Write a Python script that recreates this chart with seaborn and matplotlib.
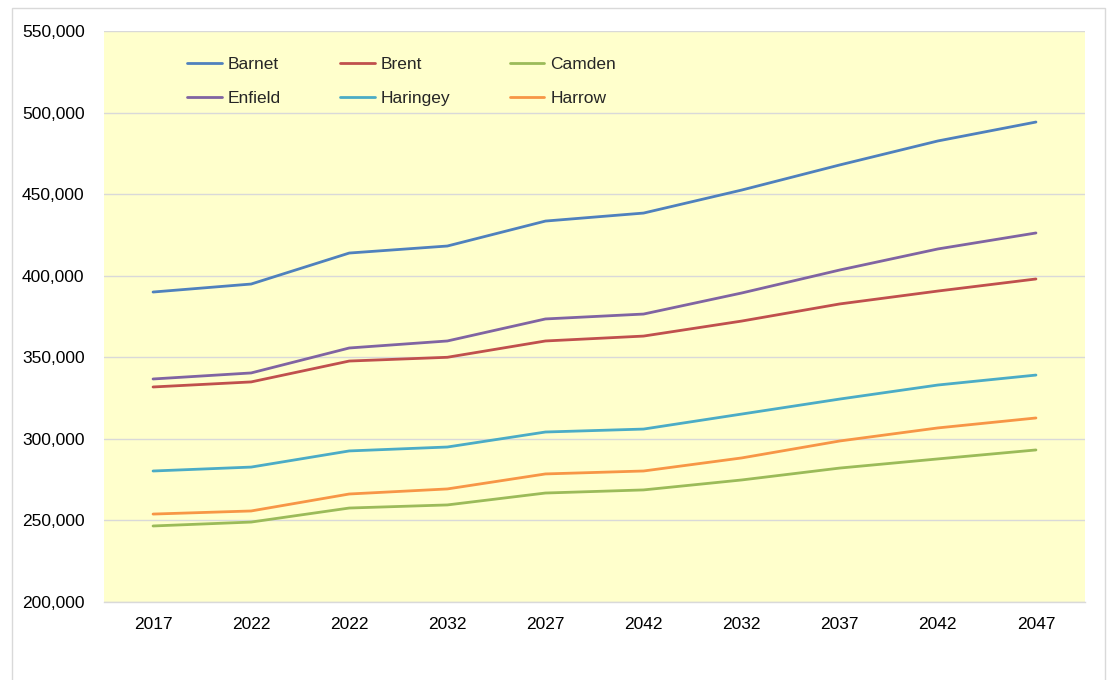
import numpy as np
import pandas as pd
import matplotlib.pyplot as plt
import matplotlib.patches as patches
import seaborn as sns

# ==========================
# Data
# ==========================
years = ["2017", "2022", "2022", "2032", "2027", "2042", "2032", "2037", "2042", "2047"]

barnet = [390000, 394900, 413900, 418200, 433500, 438400, 452500, 467900, 482600, 494200]
brent = [331800, 334900, 347700, 350000, 360000, 363000, 372200, 382700, 390600, 398000]
camden = [246600, 249000, 257600, 259500, 266800, 268700, 274800, 282100, 287700, 293200]
enfield = [336700, 340400, 355700, 360000, 373500, 376500, 389400, 403500, 416400, 426200]
haringey = [280300, 282700, 292600, 295000, 304200, 306000, 315200, 324400, 333000, 339100]
harrow = [253900, 255800, 266200, 269300, 278500, 280300, 288300, 298700, 306700, 312800]

series = {
    "Barnet": barnet,
    "Brent": brent,
    "Camden": camden,
    "Enfield": enfield,
    "Haringey": haringey,
    "Harrow": harrow,
}

colors = {
    "Barnet": "#4F81BD",
    "Brent": "#C0504D",
    "Camden": "#9BBB59",
    "Enfield": "#8064A2",
    "Haringey": "#4BACC6",
    "Harrow": "#F79646",
}

# long-form table; x is the category position since the year labels repeat
rows = []
for name, vals in series.items():
    for i, v in enumerate(vals):
        rows.append({"pos": i, "borough": name, "population": v})
df = pd.DataFrame(rows)

# ==========================
# Plot
# ==========================
sns.set_style("white")
plt.rcParams["font.family"] = ["Liberation Sans", "DejaVu Sans"]

fig = plt.figure(figsize=(11.07, 6.8), dpi=100)
ax = fig.add_axes([104 / 1107, 1 - 602 / 680, 981 / 1107, 571 / 680])
ax.set_facecolor("#FFFFCC")

sns.lineplot(
    data=df, x="pos", y="population", hue="borough",
    palette=colors, linewidth=2.0, sort=False, ax=ax,
)

ax.set_xlim(-0.5, len(years) - 0.5)
ax.set_ylim(200000, 550000)
ax.set_yticks(np.arange(200000, 550001, 50000))
ax.set_yticklabels([f"{int(t):,}" for t in ax.get_yticks()])
ax.set_xticks(range(len(years)))
ax.set_xticklabels(years)
ax.tick_params(axis="y", length=0, pad=14, labelsize=12.5, colors="#000000")
ax.tick_params(axis="x", length=0, pad=11, labelsize=12.5, colors="#000000")
ax.set_xlabel("")
ax.set_ylabel("")

ax.yaxis.grid(True, color="#D9D9D9", linewidth=1)
ax.set_axisbelow(True)
for side in ["top", "right", "left"]:
    ax.spines[side].set_visible(False)
ax.spines["bottom"].set_color("#D9D9D9")
ax.spines["bottom"].set_linewidth(1)

# legend: 3 columns, filled row by row
handles, labels = ax.get_legend_handles_labels()
order = ["Barnet", "Enfield", "Brent", "Haringey", "Camden", "Harrow"]
idx = [labels.index(o) for o in order]
ax.legend(
    [handles[i] for i in idx], [labels[i] for i in idx],
    ncol=3, loc="upper left", bbox_to_anchor=(0.069, 0.982),
    frameon=False, fontsize=12.5, handlelength=2.0, handletextpad=0.35,
    columnspacing=3.4, labelspacing=1.08,
)

# light outer frame of the chart area
fig.patches.append(patches.Rectangle(
    (12 / 1107, -0.05), 1093 / 1107, 1 - 8 / 680 + 0.05,
    transform=fig.transFigure, fill=False, edgecolor="#D9D9D9", linewidth=1,
))

fig.savefig("out.png", dpi=100, facecolor="white")
